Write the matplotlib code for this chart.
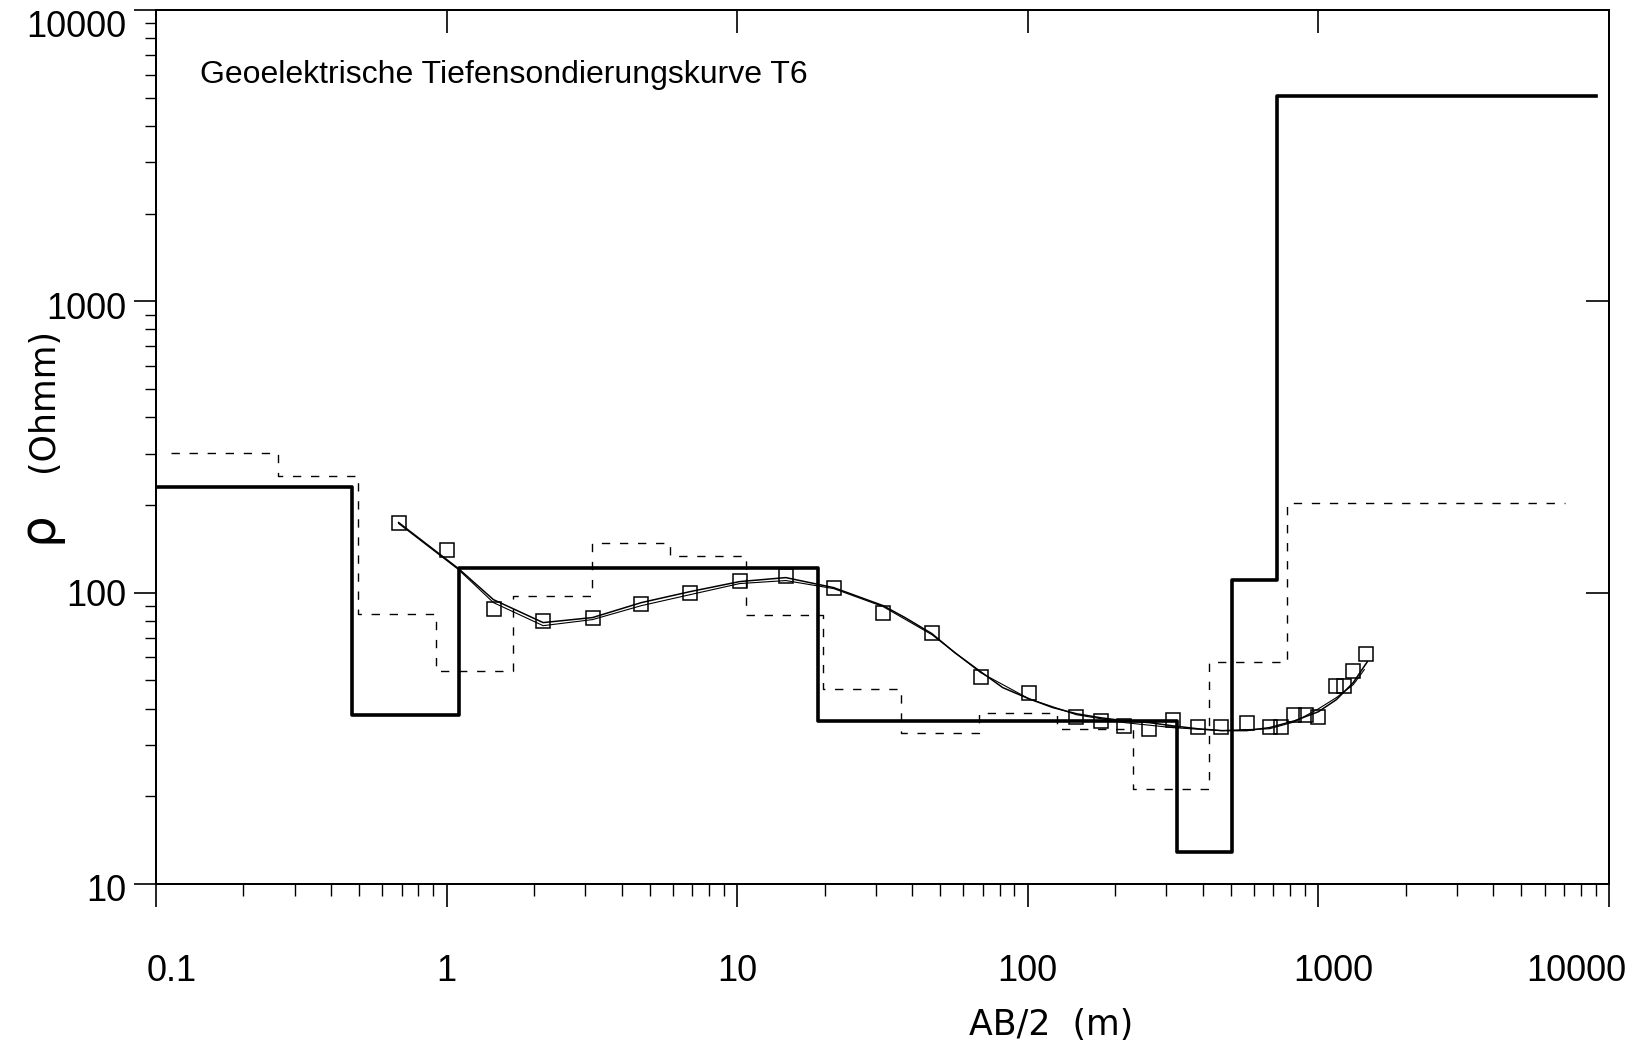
import matplotlib.pyplot as plt
from matplotlib import transforms
from matplotlib.ticker import LogLocator, NullFormatter, NullLocator

# Messpunkte: AB/2 (m) und scheinbarer Widerstand (Ohmm)
ab2 = [0.684, 1.00, 1.46, 2.15, 3.18, 4.68, 6.89, 10.2, 14.7, 21.5, 31.8, 46.8,
       68.9, 101, 147, 178, 215, 261, 315, 384, 464, 566, 679, 746, 827, 910,
       1000, 1153, 1228, 1318, 1462]
rho_a = [172.7, 140.5, 88.1, 80.1, 82.0, 91.7, 99.3, 110, 114, 104, 85.4, 72.9,
         51.4, 45.3, 37.5, 36.3, 34.9, 34.1, 36.6, 34.6, 34.6, 35.8, 34.6, 34.6,
         38.1, 38.1, 37.5, 47.9, 47.9, 53.9, 61.7]

# berechnete Sondierungskurven
fit_ab2 = [0.684, 1.099, 1.45, 2.15, 3.18, 4.68, 6.89, 10.2, 14.7, 21.5, 31.8,
           37.8, 46.8, 56.1, 68.9, 82.0, 101, 122, 147, 178, 215, 261, 315, 384,
           464, 566, 679, 827, 1000, 1153, 1318, 1474]
fit_rho = [174, 120.9, 94.6, 78.9, 82.1, 92.4, 100.8, 109.1, 112.6, 104, 90.2,
           82.1, 72.3, 62.2, 53.5, 47.2, 43.2, 40.3, 38.4, 37.2, 36.3, 35.8, 34.9,
           34.1, 33.6, 33.6, 34.4, 36.3, 39.0, 42.9, 49.1, 57.9]

fit2_ab2 = [0.684, 1.099, 1.45, 2.15, 3.18, 4.68, 6.89, 10.2, 14.7, 21.5, 31.8,
            46.8, 68.9, 101, 147, 215, 315, 464, 679, 827, 1000, 1153, 1318, 1439]
fit2_rho = [172.7, 120.0, 92.4, 77.0, 80.8, 90.2, 98.4, 107.4, 110.0, 103.2, 89.5,
            71.7, 53.1, 43.2, 38.1, 35.8, 34.4, 33.6, 34.1, 36.0, 39.9, 43.6, 48.3, 54.4]

# Schichtmodell (fett) und Alternativmodell (gestrichelt)
model_ab2 = [0.1, 0.473, 1.108, 19.0, 325, 506, 723, 9000]
model_rho = [231, 38, 121, 36.3, 12.9, 110.5, 5050, 5050]

alt_ab2 = [0.113, 0.264, 0.497, 0.921, 1.69, 3.16, 5.86, 10.7, 19.8, 36.7, 67.9,
           126, 231, 422, 781, 7080]
alt_rho = [301, 252, 84.5, 54, 97.7, 148, 134, 83.5, 46.8, 33.0, 38.6, 34.1, 21.2,
           58, 203, 203]

xticks = [0.1, 1, 10, 100, 1000, 10000]
xtick_labels = ['0.1', '1', '10', '100', '1000', '10000']
yticks = [10, 100, 1000, 10000]
ytick_labels = ['10', '100', '1000', '10000']

fig = plt.figure(figsize=(16.31, 10.44), dpi=100)
ax = fig.add_axes([0.0956, 0.1533, 0.8909, 0.8372])

# Hilfsachsen fuer die nach innen zeigenden Ticks oben und rechts
axt = ax.twiny()
axr = ax.twinx()

ax.step(model_ab2, model_rho, where='post', color='black', lw=2.6)
ax.step(alt_ab2, alt_rho, where='post', color='black', lw=1.0, ls=(0, (6, 7)))
ax.plot(fit_ab2, fit_rho, color='black', lw=1.1)
ax.plot(fit2_ab2, fit2_rho, color='black', lw=0.8)
ax.plot(ab2, rho_a, 's', mfc='none', mec='black', ms=9.5, mew=1.1)

ax.set_xscale('log')
ax.set_yscale('log')
ax.set_xlim(0.1, 10000)
ax.set_ylim(10, 10000)

ax.set_xticks(xticks)
ax.set_xticklabels(xtick_labels, family='Liberation Sans', fontsize=26)
ax.set_yticks(yticks)
ax.set_yticklabels(ytick_labels, family='Liberation Sans', fontsize=26)
ax.xaxis.set_minor_locator(LogLocator(base=10, subs=(2, 3, 4, 5, 6, 7, 8, 9), numticks=20))
ax.yaxis.set_minor_locator(LogLocator(base=10, subs=(2, 3, 4, 5, 6, 7, 8, 9), numticks=20))
ax.xaxis.set_minor_formatter(NullFormatter())
ax.yaxis.set_minor_formatter(NullFormatter())

ax.tick_params(axis='x', which='major', direction='out', length=16.5, width=1.2, pad=34,
               top=False)
ax.tick_params(axis='x', which='minor', direction='out', length=8.6, width=1.0, top=False)
ax.tick_params(axis='y', which='major', direction='out', length=16, width=1.2, pad=5,
               right=False)
ax.tick_params(axis='y', which='minor', direction='out', length=8, width=1.0, right=False)

# Beschriftungen leicht verschieben wie im Original
x_shift = [16, 0, 0, 0, 15, -33]
for lab, dx in zip(ax.get_xticklabels(), x_shift):
    lab.set_transform(lab.get_transform() +
                      transforms.ScaledTranslation(dx / 100, 0, fig.dpi_scale_trans))
y_shift = [-4, 0, -4, -14]
for lab, dy in zip(ax.get_yticklabels(), y_shift):
    lab.set_transform(lab.get_transform() +
                      transforms.ScaledTranslation(0, dy / 100, fig.dpi_scale_trans))

axt.set_xscale('log')
axt.set_xlim(0.1, 10000)
axt.set_xticks([1, 10, 100, 1000])
axt.xaxis.set_minor_locator(NullLocator())
axt.tick_params(axis='x', which='major', direction='in', length=16.5, width=1.2,
                labeltop=False)

axr.set_yscale('log')
axr.set_ylim(10, 10000)
axr.set_yticks([100, 1000])
axr.yaxis.set_minor_locator(NullLocator())
axr.tick_params(axis='y', which='major', direction='in', length=16.5, width=1.2,
                labelright=False)

for a in (ax, axt, axr):
    for sp in a.spines.values():
        sp.set_linewidth(1.3)

fig.text(200 / 1631, 1 - 75 / 1044, 'Geoelektrische Tiefensondierungskurve T6',
         family='Liberation Sans', fontsize=23, va='center', ha='left')

# Achsenbeschriftungen
fig.text(38 / 1631, 1 - 527 / 1044, 'ρ', family='DejaVu Sans', fontsize=36,
         rotation=90, ha='center', va='center')
fig.text(43 / 1631, 1 - 400 / 1044, '(Ohmm)', family='DejaVu Sans', fontsize=25,
         rotation=90, ha='center', va='center')
fig.text(1051 / 1631, 1 - 1025 / 1044, 'AB/2  (m)', family='DejaVu Sans', fontsize=25,
         ha='center', va='center')

fig.savefig('out.png', dpi=100)
